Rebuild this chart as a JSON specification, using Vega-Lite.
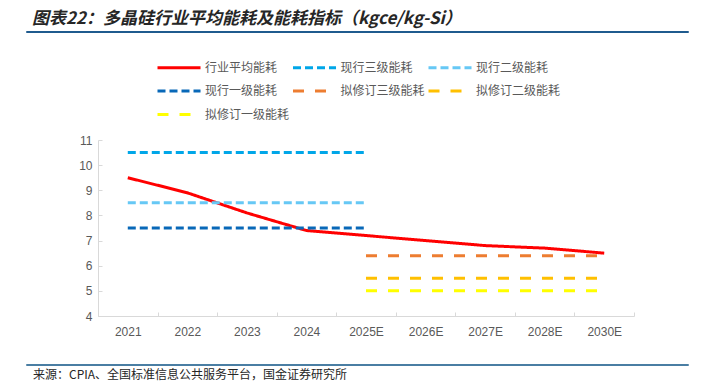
{
  "$schema": "https://vega.github.io/schema/vega-lite/v6.json",
  "background": "white",
  "padding": {"left": 25, "top": 9, "right": 16, "bottom": 0},
  "spacing": 26,
  "resolve": {"legend": {"color": "independent", "strokeDash": "independent"}},
  "config": {"font": "Noto Sans CJK SC", "view": {"stroke": null}},
  "vconcat": [
    {
      "width": 662,
      "height": 1,
      "title": {"text": "图表22：多晶硅行业平均能耗及能耗指标（kgce/kg-Si）", "anchor": "start", "orient": "top", "offset": 3.5, "dx": 6, "fontSize": 17, "fontWeight": "bold", "fontStyle": "italic", "color": "#262626", "font": "Noto Sans CJK SC"},
      "data": {"values": []},
      "mark": {"type": "point"},
      "view": {"stroke": "#1F5B8E", "strokeWidth": 1}
    },
    {
      "spacing": 0,
      "resolve": {"legend": {"color": "independent", "strokeDash": "independent"}},
      "hconcat": [
        {
          "width": 32,
          "height": 1,
          "data": {"values": []},
          "mark": {"type": "point"}
        },
        {
          "width": 536,
          "height": 176,
          "data": {"values": [
            {"series": "行业平均能耗", "year": "2021", "value": 9.5},
            {"series": "行业平均能耗", "year": "2022", "value": 8.9},
            {"series": "行业平均能耗", "year": "2023", "value": 8.1},
            {"series": "行业平均能耗", "year": "2024", "value": 7.4},
            {"series": "行业平均能耗", "year": "2025E", "value": 7.2},
            {"series": "行业平均能耗", "year": "2026E", "value": 7.0},
            {"series": "行业平均能耗", "year": "2027E", "value": 6.8},
            {"series": "行业平均能耗", "year": "2028E", "value": 6.7},
            {"series": "行业平均能耗", "year": "2030E", "value": 6.5},
            {"series": "现行三级能耗", "year": "2021", "value": 10.5},
            {"series": "现行三级能耗", "year": "2022", "value": 10.5},
            {"series": "现行三级能耗", "year": "2023", "value": 10.5},
            {"series": "现行三级能耗", "year": "2024", "value": 10.5},
            {"series": "现行三级能耗", "year": "2025E", "value": 10.5},
            {"series": "现行二级能耗", "year": "2021", "value": 8.5},
            {"series": "现行二级能耗", "year": "2022", "value": 8.5},
            {"series": "现行二级能耗", "year": "2023", "value": 8.5},
            {"series": "现行二级能耗", "year": "2024", "value": 8.5},
            {"series": "现行二级能耗", "year": "2025E", "value": 8.5},
            {"series": "现行一级能耗", "year": "2021", "value": 7.5},
            {"series": "现行一级能耗", "year": "2022", "value": 7.5},
            {"series": "现行一级能耗", "year": "2023", "value": 7.5},
            {"series": "现行一级能耗", "year": "2024", "value": 7.5},
            {"series": "现行一级能耗", "year": "2025E", "value": 7.5},
            {"series": "拟修订三级能耗", "year": "2025E", "value": 6.4},
            {"series": "拟修订三级能耗", "year": "2026E", "value": 6.4},
            {"series": "拟修订三级能耗", "year": "2027E", "value": 6.4},
            {"series": "拟修订三级能耗", "year": "2028E", "value": 6.4},
            {"series": "拟修订三级能耗", "year": "2030E", "value": 6.4},
            {"series": "拟修订二级能耗", "year": "2025E", "value": 5.5},
            {"series": "拟修订二级能耗", "year": "2026E", "value": 5.5},
            {"series": "拟修订二级能耗", "year": "2027E", "value": 5.5},
            {"series": "拟修订二级能耗", "year": "2028E", "value": 5.5},
            {"series": "拟修订二级能耗", "year": "2030E", "value": 5.5},
            {"series": "拟修订一级能耗", "year": "2025E", "value": 5.0},
            {"series": "拟修订一级能耗", "year": "2026E", "value": 5.0},
            {"series": "拟修订一级能耗", "year": "2027E", "value": 5.0},
            {"series": "拟修订一级能耗", "year": "2028E", "value": 5.0},
            {"series": "拟修订一级能耗", "year": "2030E", "value": 5.0}
          ]},
          "mark": {"type": "line", "strokeWidth": 3},
          "encoding": {
            "x": {
              "field": "year", "type": "ordinal",
              "sort": ["2021", "2022", "2023", "2024", "2025E", "2026E", "2027E", "2028E", "2030E"],
              "scale": {"type": "band", "paddingInner": 0, "paddingOuter": 0},
              "axis": {"title": null, "labelAngle": 0, "labelFontSize": 12, "labelColor": "#595959", "labelFont": "Liberation Sans", "domainColor": "#D9D9D9", "tickColor": "#D9D9D9", "tickBand": "extent", "tickSize": -4, "labelPadding": 14, "grid": false}
            },
            "y": {
              "field": "value", "type": "quantitative",
              "scale": {"domain": [4, 11], "nice": false, "zero": false},
              "axis": {"values": [4, 5, 6, 7, 8, 9, 10, 11], "title": " ", "titleAngle": 0, "titleX": -40, "titleY": -80.5, "titleAlign": "left", "titleBaseline": "top", "titleFontSize": 10, "grid": false, "labelFontSize": 12, "labelColor": "#595959", "labelFont": "Liberation Sans", "domainColor": "#D9D9D9", "tickColor": "#D9D9D9", "tickSize": -4, "labelPadding": 10}
            },
            "color": {
              "field": "series", "type": "nominal",
              "scale": {
                "domain": ["行业平均能耗", "现行三级能耗", "现行二级能耗", "现行一级能耗", "拟修订三级能耗", "拟修订二级能耗", "拟修订一级能耗"],
                "range": ["#FF0000", "#00A6E8", "#66C8F5", "#0868B8", "#ED7D31", "#FFC000", "#FFFF00"]
              },
              "legend": {"title": null, "orient": "none", "legendX": 58, "legendY": -80, "direction": "horizontal", "columns": 3, "symbolType": "M-1,0H6.17", "symbolSize": 144, "symbolStrokeWidth": 3, "labelFontSize": 12, "labelColor": "#595959", "labelOffset": 34, "columnPadding": -3.5, "rowPadding": 9.5}
            },
            "strokeDash": {
              "field": "series", "type": "nominal",
              "scale": {
                "domain": ["行业平均能耗", "现行三级能耗", "现行二级能耗", "现行一级能耗", "拟修订三级能耗", "拟修订二级能耗", "拟修订一级能耗"],
                "range": [[1, 0], [8, 4], [8, 4], [8, 4], [11, 11], [11, 11], [11, 11]]
              },
              "legend": {"title": null, "orient": "none", "legendX": 58, "legendY": -80, "direction": "horizontal", "columns": 3, "symbolType": "M-1,0H6.17", "symbolSize": 144, "symbolStrokeWidth": 3, "labelFontSize": 12, "labelColor": "#595959", "labelOffset": 34, "columnPadding": -3.5, "rowPadding": 9.5}
            }
          }
        }
      ]
    },
    {
      "width": 662,
      "height": 1,
      "title": {"text": "来源：CPIA、全国标准信息公共服务平台，国金证券研究所", "anchor": "start", "orient": "bottom", "offset": 5, "dx": 7, "fontSize": 12, "fontWeight": "normal", "color": "#262626", "font": "Noto Sans CJK SC"},
      "data": {"values": []},
      "mark": {"type": "point"},
      "view": {"stroke": "#4A7EA3", "strokeWidth": 1}
    }
  ]
}
